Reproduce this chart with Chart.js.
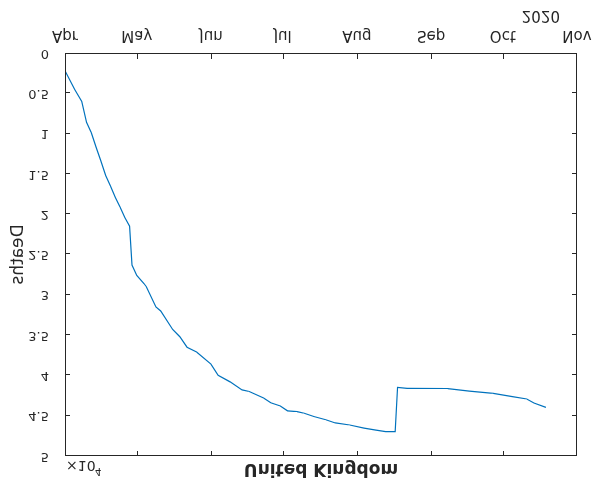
<!DOCTYPE html>
<html>
<head>
<meta charset="utf-8">
<script src="https://cdn.jsdelivr.net/npm/chart.js@4"></script>
<style>
  html, body { margin: 0; padding: 0; background: #fff; }
  /* the reference figure is mirrored top-to-bottom */
  #chart { display: block; transform: scaleY(-1); }
</style>
</head>
<body>
<canvas id="chart" width="592" height="485"></canvas>
<script>
// days since 1 Apr 2020
const days = [0, 4, 7, 9, 11, 13, 15, 17, 19, 21, 23, 25, 27, 28, 30, 33, 34, 38, 40, 45, 48,
  51, 55, 61, 64, 69, 74, 77, 83, 86, 90, 93, 97, 100, 104, 109, 113, 119, 125, 130, 134, 138,
  139, 143, 160, 169, 179, 187, 193, 196, 201];
// cumulative deaths, United Kingdom
const deaths = [2200, 4500, 6000, 8600, 9900, 11700, 13400, 15200, 16500, 17900, 19100, 20400,
  21500, 26300, 27600, 28600, 29000, 31500, 32000, 34300, 35200, 36500, 37100, 38600, 40000,
  40800, 41800, 42000, 42800, 43400, 43800, 44400, 44500, 44700, 45100, 45500, 45900, 46150,
  46550, 46800, 46980, 46980, 41480, 41600, 41650, 41940, 42220, 42640, 42930, 43430, 43960];

const monthDays = [0, 30, 61, 91, 122, 153, 183, 214];
const monthLabels = ['Apr', 'May', 'Jun', 'Jul', 'Aug', 'Sep', 'Oct', 'Nov'];
const yTickValues = [0, 5000, 10000, 15000, 20000, 25000, 30000, 35000, 40000, 45000, 50000];
const yTickLabels = ['0', '0.5', '1', '1.5', '2', '2.5', '3', '3.5', '4', '4.5', '5'];

const axisColor = '#262626';
const fontFamily = '"DejaVu Sans", sans-serif';

// 坐标框和向内刻度 (MATLAB style box)
const boxPlugin = {
  id: 'matlabBox',
  afterDraw(chart) {
    const ctx = chart.ctx;
    const a = chart.chartArea;
    const xs = chart.scales.x;
    const ys = chart.scales.y;
    const tl = 5;
    const L = Math.round(a.left), R = Math.round(a.right) - 1;
    const T = Math.round(a.top), B = Math.round(a.bottom) - 1;
    ctx.save();
    ctx.fillStyle = axisColor;
    ctx.fillRect(L, T, R - L + 1, 1);
    ctx.fillRect(L, B, R - L + 1, 1);
    ctx.fillRect(L, T, 1, B - T + 1);
    ctx.fillRect(R, T, 1, B - T + 1);
    monthDays.forEach(d => {
      const x = Math.min(Math.round(xs.getPixelForValue(d)), R);
      ctx.fillRect(x, B - tl, 1, tl);
      ctx.fillRect(x, T, 1, tl);
    });
    yTickValues.forEach(v => {
      const y = Math.min(Math.round(ys.getPixelForValue(v)), B);
      ctx.fillRect(L, y, tl, 1);
      ctx.fillRect(R - tl + 1, y, tl, 1);
    });

    // title
    ctx.font = 'bold 17px ' + fontFamily;
    ctx.textAlign = 'center';
    ctx.textBaseline = 'middle';
    ctx.fillText('United Kingdom', (a.left + a.right) / 2, 17);
    // exponent
    ctx.font = '14px ' + fontFamily;
    ctx.textAlign = 'left';
    ctx.fillText('\u00d710', a.left + 1, 20);
    ctx.font = '10px ' + fontFamily;
    ctx.fillText('4', a.left + 30, 14);
    // year
    ctx.font = '15px ' + fontFamily;
    ctx.textAlign = 'right';
    ctx.fillText('2020', 560, 470);
    ctx.restore();
  }
};

new Chart(document.getElementById('chart'), {
  type: 'line',
  data: {
    datasets: [{
      label: 'United Kingdom',
      data: days.map((d, i) => ({ x: d, y: deaths[i] })),
      borderColor: '#0072BD',
      borderWidth: 1.2,
      pointRadius: 0,
      fill: false,
      tension: 0
    }]
  },
  options: {
    responsive: false,
    animation: false,
    layout: { padding: { left: 0, right: 15, top: 29, bottom: 0 } },
    plugins: {
      legend: { display: false },
      tooltip: { enabled: false }
    },
    scales: {
      x: {
        type: 'linear',
        min: 0,
        max: 214,
        afterBuildTicks: scale => { scale.ticks = monthDays.map(v => ({ value: v })); },
        afterFit: scale => {
          scale.height = 53;
          scale.paddingLeft = 0;
          scale.paddingRight = 0;
        },
        grid: { display: false },
        border: { display: false },
        ticks: {
          autoSkip: false,
          maxRotation: 0,
          padding: 1,
          color: axisColor,
          font: { family: fontFamily, size: 15 },
          callback: v => monthLabels[monthDays.indexOf(v)]
        }
      },
      y: {
        min: 0,
        max: 50000,
        afterBuildTicks: scale => { scale.ticks = yTickValues.map(v => ({ value: v })); },
        afterFit: scale => {
          scale.width = 65;
          scale.paddingTop = 0;
          scale.paddingBottom = 0;
        },
        grid: { display: false },
        border: { display: false },
        title: {
          display: true,
          text: 'Deaths',
          color: axisColor,
          font: { family: fontFamily, size: 17 },
          padding: { top: 8, bottom: 0 }
        },
        ticks: {
          padding: 8,
          color: axisColor,
          font: { family: fontFamily, size: 13 },
          callback: v => yTickLabels[yTickValues.indexOf(v)]
        }
      }
    }
  },
  plugins: [boxPlugin]
});
</script>
</body>
</html>
